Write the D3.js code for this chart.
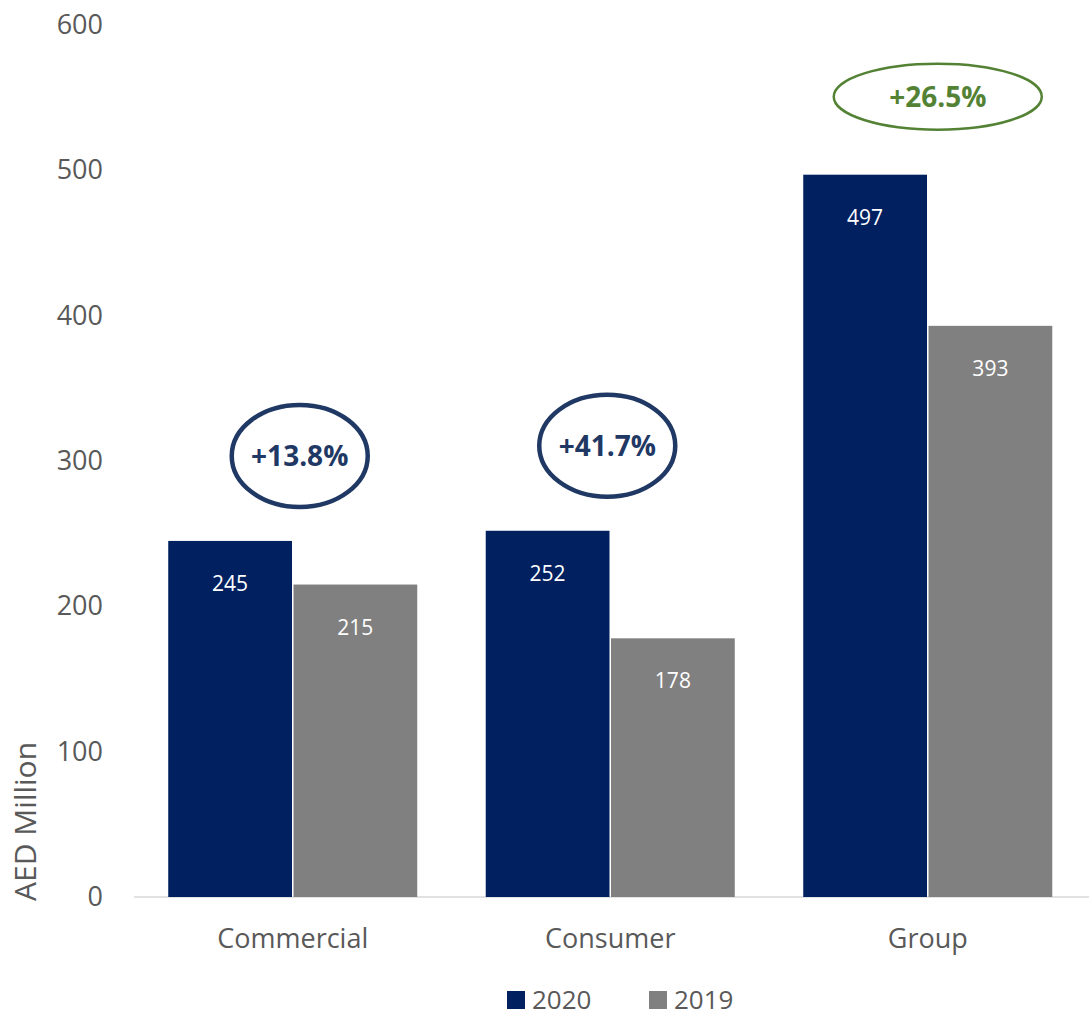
<!DOCTYPE html>
<html>
<head>
<meta charset="utf-8">
<script src="https://cdn.jsdelivr.net/npm/d3@7"></script>
<style>
  html, body { margin: 0; padding: 0; background: #fff; }
  svg { display: block; font-family: "Open Sans", "Noto Sans", sans-serif; }
</style>
</head>
<body>
<svg id="chart" width="1089" height="1017"></svg>
<script>
// Operating income by segment, AED million
const categories = ["Commercial", "Consumer", "Group"];
const seriesNames = ["2020", "2019"];
const values2020 = [245, 252, 497];
const values2019 = [215, 178, 393];
const growthLabels = ["+13.8%", "+41.7%", "+26.5%"];
const yTicks = [0, 100, 200, 300, 400, 500, 600];

const colors = { "2020": "#002060", "2019": "#808080" };
const textColor = "#595959";

const svg = d3.select("#chart");

const y = d3.scaleLinear().domain([0, 600]).range([897, 25]);

const x0 = d3.scaleBand()
  .domain(categories)
  .range([134, 1086.5])
  .paddingInner(0.2157)
  .paddingOuter(0.1078);

const x1 = d3.scaleBand()
  .domain(seriesNames)
  .range([0, x0.bandwidth()])
  .paddingInner(0.012);

const rows = categories.map((c, i) => ({
  category: c,
  values: [
    { series: "2020", value: values2020[i] },
    { series: "2019", value: values2019[i] }
  ]
}));

// Category axis baseline
svg.append("line")
  .attr("x1", 134).attr("x2", 1089)
  .attr("y1", y(0)).attr("y2", y(0))
  .attr("stroke", "#d9d9d9")
  .attr("stroke-width", 1.5);

// Value axis (labels only)
const yAxis = svg.append("g")
  .attr("transform", "translate(103,0)")
  .call(d3.axisLeft(y).tickValues(yTicks).tickSize(0).tickPadding(0));
yAxis.select(".domain").remove();
yAxis.selectAll("text")
  .attr("fill", textColor)
  .style("font-size", "27px")
  .style("font-family", "'Open Sans', sans-serif");

// Category labels
const xAxis = svg.append("g")
  .attr("transform", `translate(0,${y(0)})`)
  .call(d3.axisBottom(x0).tickSize(0).tickPadding(0));
xAxis.select(".domain").remove();
xAxis.selectAll("text")
  .attr("fill", textColor)
  .attr("dy", null)
  .attr("y", 51)
  .style("font-size", "27px")
  .style("font-family", "'Open Sans', sans-serif");

// Axis title
svg.append("text")
  .attr("transform", `translate(36,${y(52)}) rotate(-90)`)
  .attr("text-anchor", "middle")
  .attr("fill", textColor)
  .style("font-size", "30px")
  .text("AED Million");

// Bars
const groups = svg.append("g").selectAll("g")
  .data(rows)
  .join("g")
  .attr("transform", d => `translate(${x0(d.category)},0)`);

groups.selectAll("rect")
  .data(d => d.values)
  .join("rect")
  .attr("x", d => x1(d.series))
  .attr("y", d => y(d.value))
  .attr("width", x1.bandwidth())
  .attr("height", d => y(0) - y(d.value))
  .attr("fill", d => colors[d.series]);

// Value labels inside bar tops
groups.selectAll("text.val")
  .data(d => d.values)
  .join("text")
  .attr("class", "val")
  .attr("x", d => x1(d.series) + x1.bandwidth() / 2)
  .attr("y", d => y(d.value) + 50)
  .attr("text-anchor", "middle")
  .attr("fill", "#ffffff")
  .style("font-size", "21px")
  .text(d => d.value);

// Growth callouts above each pair
const callouts = categories.map((c, i) => {
  const isTotal = c === "Group";
  const top = y(Math.max(values2020[i], values2019[i]));
  return {
    label: growthLabels[i],
    cx: x0(c) + x0.bandwidth() / 2 + (isTotal ? 10 : (i === 0 ? 7 : -3)),
    cy: top - (isTotal ? 78 : 85),
    rx: isTotal ? 104 : 68,
    ry: isTotal ? 33 : 51,
    color: isTotal ? "#548235" : "#1f3864",
    width: isTotal ? 2.5 : 4.5
  };
});

const cg = svg.append("g").selectAll("g")
  .data(callouts)
  .join("g");

cg.append("ellipse")
  .attr("cx", d => d.cx)
  .attr("cy", d => d.cy)
  .attr("rx", d => d.rx)
  .attr("ry", d => d.ry)
  .attr("fill", "none")
  .attr("stroke", d => d.color)
  .attr("stroke-width", d => d.width);

cg.append("text")
  .attr("x", d => d.cx)
  .attr("y", d => d.cy + 10)
  .attr("text-anchor", "middle")
  .attr("fill", d => d.color)
  .style("font-size", "28px")
  .style("font-weight", "bold")
  .text(d => d.label);

// Legend
const legend = svg.append("g").selectAll("g")
  .data(seriesNames)
  .join("g")
  .attr("transform", (d, i) => `translate(${507 + i * 142},991)`);

legend.append("rect")
  .attr("width", 18)
  .attr("height", 18)
  .attr("fill", d => colors[d]);

legend.append("text")
  .attr("x", 25)
  .attr("y", 18)
  .attr("fill", textColor)
  .style("font-size", "26px")
  .text(d => d);
</script>
</body>
</html>
